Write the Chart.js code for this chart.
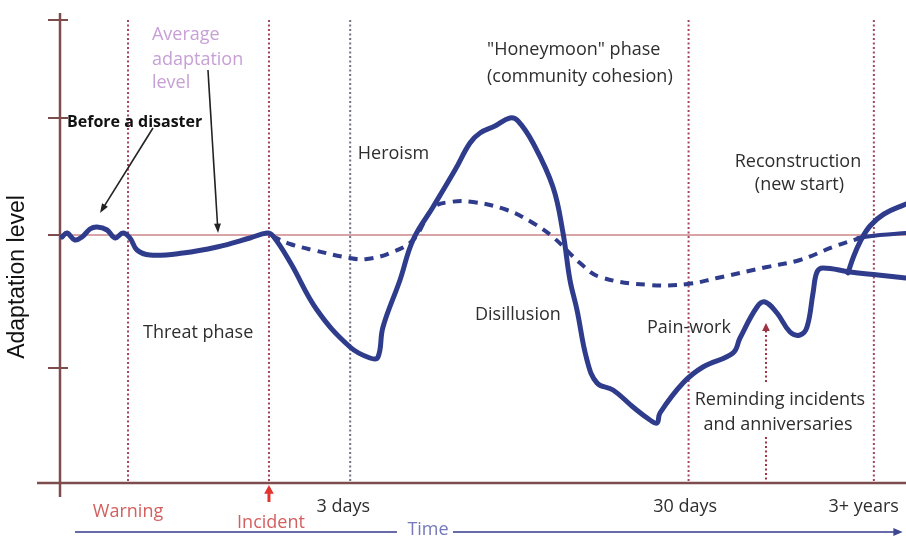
<!DOCTYPE html>
<html>
<head>
<meta charset="utf-8">
<script src="https://cdn.jsdelivr.net/npm/chart.js@4"></script>
<style>
html, body { margin: 0; padding: 0; background: #fff; }
#wrap { width: 906px; height: 537px; }
</style>
</head>
<body>
<div id="wrap"><canvas id="adaptChart"></canvas></div>
<script>
// Disaster response: adaptation level over time

// solid line - community response
const responseX = [0.24,0.83,1.77,2.60,3.55,4.37,5.56,6.50,7.45,8.27,
  9.10,10.64,14.54,18.56,22.46,24.47,25.18,27.19,30.38,34.28,
  36.64,37.59,38.18,40.19,41.73,44.09,46.69,48.46,49.65,51.42,
  53.19,54.14,55.91,58.27,59.46,60.28,61.11,62.29,63.48,65.37,
  67.73,69.74,70.57,70.92,73.64,76.00,79.55,80.38,82.39,83.33,
  84.75,86.29,87.47,88.30,89.01,89.48,90.19,93.38,96.69,100];
const responseY = [-0.02,0.02,-0.05,-0.02,0.06,0.08,0.05,-0.03,0.02,-0.03,
  -0.15,-0.20,-0.18,-0.12,-0.03,0.02,-0.01,-0.27,-0.75,-1.12,
  -1.23,-1.22,-0.92,-0.45,-0.05,0.28,0.65,0.92,1.02,1.09,
  1.17,1.14,0.92,0.48,0.02,-0.45,-0.75,-1.25,-1.48,-1.55,
  -1.72,-1.85,-1.88,-1.78,-1.48,-1.32,-1.18,-1.03,-0.72,-0.67,
  -0.78,-0.97,-1.00,-0.92,-0.58,-0.37,-0.33,-0.37,-0.40,-0.43];

// reconstruction branch (new start)
const branchX = [93.14,93.74,94.56,95.74,97.40,100];
const branchY = [-0.38,-0.23,-0.07,0.09,0.21,0.31];

// dashed line - average response
const averageX = [25.06,27.19,29.91,34.28,36.29,39.01,41.73,44.09,46.10,48.82,
  52.84,55.91,58.27,61.47,63.83,69.74,74.23,77.66,83.57,87.47,91.37,94.56];
const averageY = [-0.01,-0.09,-0.15,-0.23,-0.24,-0.18,-0.05,0.27,0.33,0.33,
  0.25,0.12,-0.02,-0.28,-0.42,-0.50,-0.49,-0.43,-0.32,-0.25,-0.12,-0.03];
const tailX = [94.33,96.93,100];
const tailY = [-0.03,0.00,0.02];

// time markers on the x axis
const eventX = [8.04, 24.7, 34.3, 74.3, 96.2];
const eventLabels = ['Warning', 'Incident', '3 days', '30 days', '3+ years'];

const yTicks = [2.15, 1.17, 0, -1.33];

const BLUE = '#2f3c8c';
const TEXT = '#2e2e2e';
const BODY_FONT = '18px "Open Sans", sans-serif';

const toPoints = (xs, ys) => xs.map((v, i) => ({ x: v, y: ys[i] }));

// text notes (data units)
const notes = [
  { t: 'Average', x: 10.87, y: 2.00, align: 'left', color: '#c7a0d6' },
  { t: 'adaptation', x: 10.87, y: 1.75, align: 'left', color: '#c7a0d6' },
  { t: 'level', x: 10.87, y: 1.52, align: 'left', color: '#c7a0d6' },
  { t: 'Before a disaster', x: 0.83, y: 1.13, align: 'left', color: '#111', font: 'bold 16px "Open Sans", sans-serif' },
  { t: 'Heroism', x: 35.2, y: 0.81, align: 'left' },
  { t: '"Honeymoon" phase', x: 50.47, y: 1.85, align: 'left' },
  { t: '(community cohesion)', x: 50.47, y: 1.58, align: 'left' },
  { t: 'Reconstruction', x: 87.23, y: 0.73, align: 'center' },
  { t: '(new start)', x: 87.4, y: 0.50, align: 'center' },
  { t: 'Threat phase', x: 9.81, y: -0.98, align: 'left' },
  { t: 'Disillusion', x: 49.05, y: -0.80, align: 'left' },
  { t: 'Pain-work', x: 69.39, y: -0.93, align: 'left' },
  { t: 'Reminding incidents', x: 85.1, y: -1.65, align: 'center' },
  { t: 'and anniversaries', x: 84.87, y: -1.90, align: 'center' },
  { t: eventLabels[0], x: eventX[0], y: -2.77, align: 'center', color: '#d45f5f' },
  { t: eventLabels[1], x: 24.94, y: -2.88, align: 'center', color: '#d45f5f' },
  { t: eventLabels[2], x: 33.5, y: -2.72, align: 'center' },
  { t: eventLabels[3], x: 73.9, y: -2.72, align: 'center' },
  { t: eventLabels[4], x: 95.0, y: -2.72, align: 'center' },
  { t: 'Time', x: 43.5, y: -2.95, align: 'center', color: '#7478bb' }
];

function arrow(ctx, x1, y1, x2, y2, head, spread) {
  const a = Math.atan2(y2 - y1, x2 - x1);
  ctx.beginPath();
  ctx.moveTo(x1, y1);
  ctx.lineTo(x2 - Math.cos(a) * head * 0.6, y2 - Math.sin(a) * head * 0.6);
  ctx.stroke();
  ctx.beginPath();
  ctx.moveTo(x2, y2);
  ctx.lineTo(x2 - head * Math.cos(a - spread), y2 - head * Math.sin(a - spread));
  ctx.lineTo(x2 - head * Math.cos(a + spread), y2 - head * Math.sin(a + spread));
  ctx.closePath();
  ctx.fill();
}

const sketchPlugin = {
  id: 'sketch',
  beforeDatasetsDraw(chart) {
    const { ctx, scales: { x, y } } = chart;
    const X = v => x.getPixelForValue(v), Y = v => y.getPixelForValue(v);
    ctx.save();
    // average adaptation level
    ctx.strokeStyle = '#d9a4a8';
    ctx.lineWidth = 2;
    ctx.beginPath(); ctx.moveTo(X(0), Y(0)); ctx.lineTo(X(100), Y(0)); ctx.stroke();

    // dotted phase lines
    ctx.lineWidth = 2;
    ctx.setLineDash([2, 2.5]);
    eventX.forEach((v, i) => {
      ctx.strokeStyle = i === 2 ? '#727287' : '#a3465c';
      ctx.beginPath(); ctx.moveTo(X(v), Y(2.15)); ctx.lineTo(X(v), Y(-2.48)); ctx.stroke();
    });
    ctx.setLineDash([]);

    // axes
    ctx.strokeStyle = '#7d4c4c';
    ctx.lineWidth = 2.5;
    ctx.beginPath(); ctx.moveTo(X(0), chart.chartArea.top); ctx.lineTo(X(0), Y(-2.62)); ctx.stroke();
    ctx.beginPath(); ctx.moveTo(X(-2.72), Y(-2.48)); ctx.lineTo(X(100), Y(-2.48)); ctx.stroke();
    ctx.lineWidth = 2;
    yTicks.forEach(v => {
      ctx.beginPath(); ctx.moveTo(X(0) - 12, Y(v)); ctx.lineTo(X(0) + 8, Y(v)); ctx.stroke();
    });
    ctx.restore();
  },
  afterDatasetsDraw(chart) {
    const { ctx, scales: { x, y } } = chart;
    const X = v => x.getPixelForValue(v), Y = v => y.getPixelForValue(v);
    ctx.save();

    // y axis title
    ctx.save();
    ctx.translate(18, 277);
    ctx.rotate(-Math.PI / 2);
    ctx.font = '23px "Liberation Sans", Arial, sans-serif';
    ctx.fillStyle = '#111';
    ctx.textAlign = 'center';
    ctx.textBaseline = 'middle';
    ctx.fillText('Adaptation level', 0, 0);
    ctx.restore();

    // notes
    ctx.textBaseline = 'middle';
    notes.forEach(n => {
      ctx.font = n.font || BODY_FONT;
      ctx.fillStyle = n.color || TEXT;
      ctx.textAlign = n.align;
      ctx.fillText(n.t, X(n.x), Y(n.y));
    });

    // pointer arrows
    ctx.strokeStyle = '#222';
    ctx.fillStyle = '#222';
    ctx.lineWidth = 1.6;
    arrow(ctx, X(10.99), Y(1.07), X(4.73), Y(0.22), 10, 0.35);
    arrow(ctx, X(17.49), Y(1.65), X(18.68), Y(0.02), 10, 0.35);

    // incident arrow
    ctx.strokeStyle = '#e2342c';
    ctx.fillStyle = '#e2342c';
    ctx.lineWidth = 3;
    arrow(ctx, X(24.7), Y(-2.67), X(24.7), Y(-2.50), 10, 0.5);

    // reminding incidents arrow (dotted)
    ctx.strokeStyle = '#9c3444';
    ctx.fillStyle = '#9c3444';
    ctx.lineWidth = 2;
    ctx.setLineDash([2, 2.5]);
    ctx.beginPath(); ctx.moveTo(X(83.45), Y(-2.02)); ctx.lineTo(X(83.45), Y(-2.48)); ctx.stroke();
    arrow(ctx, X(83.45), Y(-1.47), X(83.45), Y(-0.88), 9, 0.45);
    ctx.setLineDash([]);

    // time arrow
    ctx.strokeStyle = '#666aa6';
    ctx.fillStyle = '#3f4690';
    ctx.lineWidth = 2;
    ctx.beginPath(); ctx.moveTo(X(1.77), Y(-2.97)); ctx.lineTo(X(39.83), Y(-2.97)); ctx.stroke();
    arrow(ctx, X(46.45), Y(-2.97), X(99.6), Y(-2.97), 10, 0.4);

    ctx.restore();
  }
};

const lineStyle = {
  borderColor: BLUE,
  backgroundColor: BLUE,
  pointRadius: 0,
  fill: false,
  tension: 0.4,
  borderCapStyle: 'round',
  borderJoinStyle: 'round'
};

new Chart(document.getElementById('adaptChart'), {
  type: 'line',
  data: {
    datasets: [
      { ...lineStyle, label: 'Response', data: toPoints(responseX, responseY), borderWidth: 5 },
      { ...lineStyle, label: 'New start', data: toPoints(branchX, branchY), borderWidth: 5 },
      { ...lineStyle, label: 'Average', data: toPoints(averageX, averageY), borderWidth: 4, borderDash: [9, 7], borderCapStyle: 'butt' },
      { ...lineStyle, label: 'Average tail', data: toPoints(tailX, tailY), borderWidth: 4 }
    ]
  },
  options: {
    responsive: true,
    maintainAspectRatio: false,
    animation: false,
    layout: { padding: { left: 60, right: 0, top: 13, bottom: 54 } },
    scales: {
      x: { type: 'linear', display: false, min: 0, max: 100 },
      y: { display: false, min: -2.48, max: 2.22 }
    },
    plugins: { legend: { display: false }, tooltip: { enabled: false } }
  },
  plugins: [sketchPlugin]
});
</script>
</body>
</html>
